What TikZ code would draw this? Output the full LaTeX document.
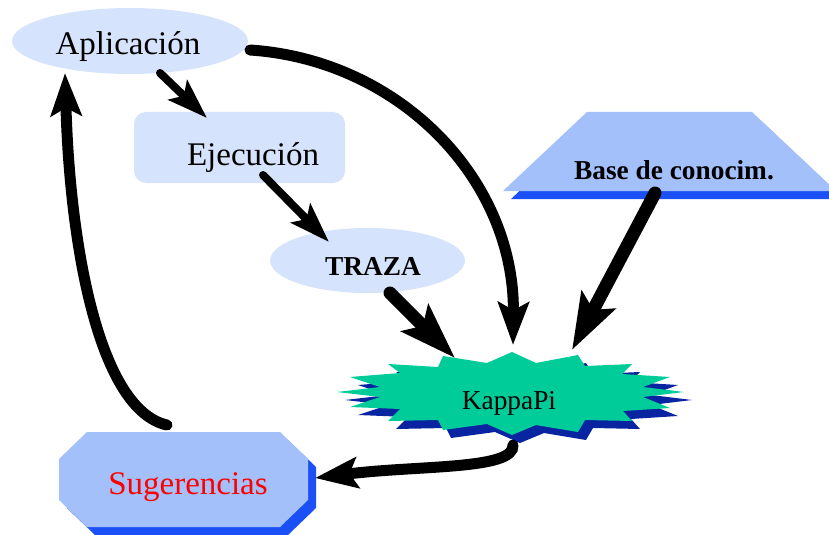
\documentclass[tikz,border=0pt]{standalone}
\usepackage{fontspec}
\setmainfont{Liberation Serif}
\usetikzlibrary{arrows.meta,calc}
\definecolor{paleblue}{RGB}{214,227,252}
\definecolor{midblue}{RGB}{163,192,250}
\definecolor{shadeblue}{RGB}{26,80,245}
\definecolor{kgreen}{RGB}{0,204,153}
\definecolor{kshade}{RGB}{8,36,160}
\newcommand\burst{(512,352) -- (536,363) -- (578,355) -- (585,366) -- (632,364) -- (622,374)
  -- (670,377) -- (643,387) -- (684,392) -- (643,397) -- (670,408) -- (623,411) -- (632,421)
  -- (585,420) -- (578,432) -- (536,425) -- (512,435) -- (487,424) -- (443,430) -- (438,420)
  -- (388,421) -- (400,409) -- (350,407) -- (380,397) -- (337,392) -- (380,387) -- (350,377)
  -- (400,373) -- (388,364) -- (438,367) -- (443,356) -- (487,363) -- cycle}
\newcommand\octa{(87,432) -- (280,432) -- (308,459) -- (308,500) -- (280,527) -- (87,527)
  -- (59,500) -- (59,459) -- cycle}
\newcommand\trap{(587,112) -- (752,112) -- (836,191) -- (503,191) -- cycle}

\begin{document}
\begin{tikzpicture}[x=0.75pt,y=-0.75pt,line cap=round,
  arr/.style={line width=6pt,-{Stealth[length=30pt,width=20pt,inset=6pt]}},
  fatarr/.style={line width=9.75pt,-{Stealth[length=42pt,width=28pt,inset=8pt]}},
  curvarr/.style={line width=8.25pt,-{Stealth[length=32pt,width=23pt,inset=6pt]}},
  bigtxt/.style={anchor=base,inner sep=0pt,font=\fontsize{24.75}{28}\selectfont},
  smalltxt/.style={anchor=base,inner sep=0pt,font=\fontsize{20.5}{24}\selectfont}]
  \useasboundingbox (0,0) rectangle (829,535);
  \fill[paleblue] (130,41) ellipse [x radius=88.5pt,y radius=24.75pt];
  \fill[paleblue,rounded corners=9pt] (134,112) rectangle (345,183);
  \fill[paleblue] (367.5,260.5) ellipse [x radius=73.1pt,y radius=24.4pt];
  \fill[shadeblue,shift={(8,8)}] \trap;
  \fill[midblue] \trap;
  \fill[kshade,shift={(8,8)}] \burst;
  \fill[kgreen] \burst;
  \fill[shadeblue,shift={(8,8)}] \octa;
  \fill[midblue] \octa;
  \node[bigtxt] (apl) at (128,55) {Aplicación};
  \node[bigtxt] (eje) at (253,166) {Ejecución};
  \node[smalltxt,font=\fontsize{20.5}{24}\selectfont\bfseries] (traza) at (373,275) {TRAZA};
  \node[smalltxt,font=\fontsize{20.5}{24}\selectfont\bfseries] (base) at (674,180) {Base de conocim.};
  \node[smalltxt] (kappa) at (509,409) {KappaPi};
  \node[bigtxt,red] (sug) at (188,494) {Sugerencias};
  \draw[arr] ($(apl.base)+(32,18)$) -- ($(eje.base)+(-46,-48)$);
  \draw[arr] ($(eje.base)+(10,9)$) -- ($(traza.base)+(-44,-33)$);
  \draw[fatarr] ($(traza.base)+(17,18)$) -- ($(kappa.base)+(-54,-51)$);
  \draw[fatarr] ($(base.base)+(-19,13)$) -- ($(kappa.base)+(63,-59)$);
  \draw[curvarr] ($(apl.base)+(122,-5)$) .. controls +(150,10) and +(2,-165) .. ($(kappa.base)+(4,-64)$);
  \draw[curvarr] ($(kappa.base)+(4,36)$) .. controls +(2,25) and +(105,-13) .. ($(sug.base)+(127,-16)$);
  \draw[curvarr] ($(sug.base)+(-21,-69)$) .. controls +(-67,-15) and +(5,177) .. ($(apl.base)+(-63,18)$);
\end{tikzpicture}
\end{document}
